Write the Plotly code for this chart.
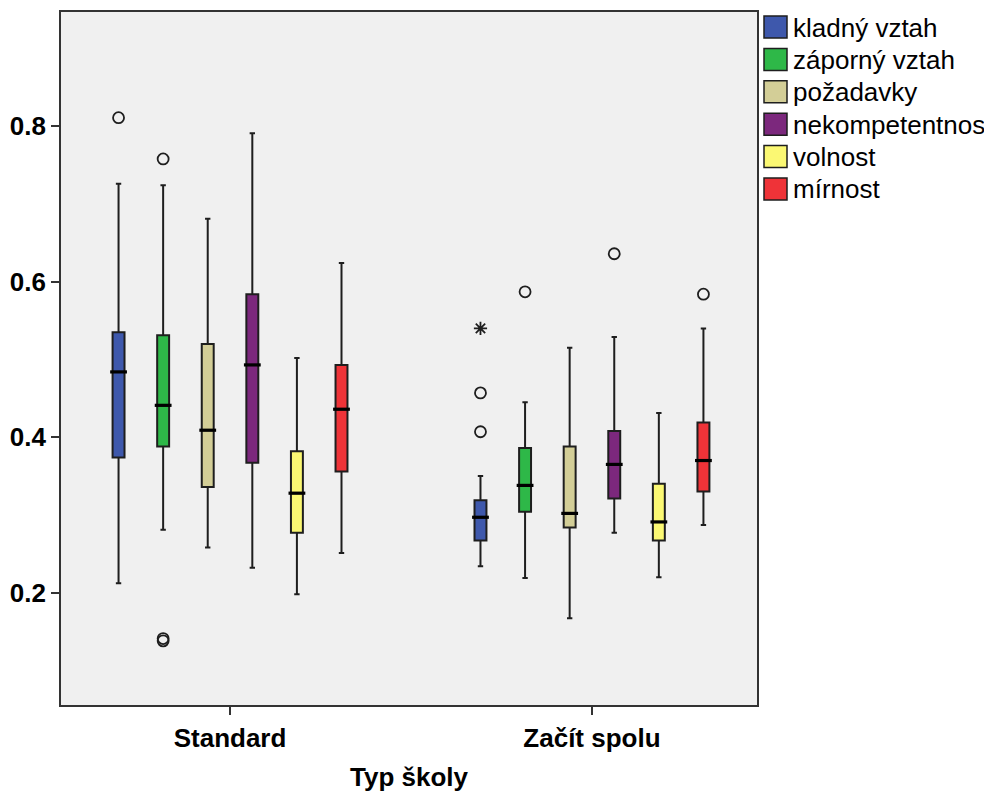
import plotly.graph_objects as go

# ---- data ----
groups = ["Standard", "Začít spolu"]
series = ["kladný vztah", "záporný vztah", "požadavky", "nekompetentnost", "volnost", "mírnost"]
colors = ["#3E58AC", "#2EB848", "#D3CE97", "#7C287D", "#FBF873", "#EF3338"]

# per series: [Standard, Začít spolu]
lower_whisker = [[0.212, 0.234], [0.281, 0.219], [0.258, 0.167], [0.232, 0.277], [0.198, 0.220], [0.251, 0.287]]
q1_values     = [[0.374, 0.267], [0.388, 0.304], [0.336, 0.284], [0.367, 0.321], [0.277, 0.267], [0.356, 0.330]]
median_values = [[0.484, 0.297], [0.441, 0.338], [0.409, 0.302], [0.493, 0.365], [0.328, 0.291], [0.436, 0.370]]
q3_values     = [[0.535, 0.319], [0.531, 0.386], [0.520, 0.388], [0.584, 0.408], [0.382, 0.340], [0.493, 0.419]]
upper_whisker = [[0.726, 0.350], [0.724, 0.445], [0.681, 0.515], [0.791, 0.529], [0.502, 0.431], [0.624, 0.540]]

# outliers: series index, group index, value, kind ("o" = outlier, "*" = extreme)
outlier_series = [0, 1, 1, 1, 0, 0, 0, 1, 3, 5]
outlier_group  = [0, 0, 0, 0, 1, 1, 1, 1, 1, 1]
outlier_value  = [0.811, 0.758, 0.141, 0.138, 0.540, 0.457, 0.407, 0.587, 0.636, 0.584]
outlier_kind   = ["o", "o", "o", "o", "*", "o", "o", "o", "o", "o"]

y_ticks = [0.2, 0.4, 0.6, 0.8]

# ---- layout constants ----
spacing = 0.1232   # distance between boxes within a group (x units)
box_w = 0.033
FONT = "Arial, Liberation Sans, sans-serif"
FS = 26
n = len(series)
OFF = 8  # page body margin

def pos(si, gi):
    return gi + (si - (n - 1) / 2) * spacing

fig = go.Figure()

for si, name in enumerate(series):
    xs = [pos(si, gi) for gi in range(len(groups))]
    fig.add_trace(go.Box(
        x=xs,
        q1=q1_values[si], median=median_values[si], q3=q3_values[si],
        lowerfence=lower_whisker[si], upperfence=upper_whisker[si],
        fillcolor=colors[si],
        line=dict(color="#1e1e1e", width=2),
        width=box_w, whiskerwidth=0.45,
        boxpoints=False, showlegend=False, name=name, hoverinfo="skip",
    ))
    # thick median bars
    fig.add_trace(go.Scatter(
        x=xs, y=median_values[si], mode="markers",
        marker=dict(symbol="line-ew", size=12, line=dict(color="black", width=3.2)),
        showlegend=False, hoverinfo="skip",
    ))

# outliers
for kind, sym, size in [("o", "circle-open", 11), ("*", "asterisk-open", 11)]:
    xs = [pos(s, g) for s, g, k in zip(outlier_series, outlier_group, outlier_kind) if k == kind]
    ys = [v for v, k in zip(outlier_value, outlier_kind) if k == kind]
    fig.add_trace(go.Scatter(
        x=xs, y=ys, mode="markers",
        marker=dict(symbol=sym, size=size, color="#1e1e1e", line=dict(color="#1e1e1e", width=1.8)),
        showlegend=False, hoverinfo="skip",
    ))

# ---- manual legend (SPSS style) ----
# target screen pixels of the plot frame
L, R, T, B = 61, 757, 12, 705
W, H = R - L, B - T
FIG_W, FIG_H = 992 - OFF, 792 - OFF

def px(x):
    return (x - L) / W
def py(y):
    return (B - y) / H

shapes = []
annotations = []
for i, (name, col) in enumerate(zip(series, colors)):
    top = 16 + 32.4 * i
    shapes.append(dict(type="rect", xref="paper", yref="paper",
                       x0=px(764), x1=px(787), y0=py(top + 22), y1=py(top),
                       fillcolor=col, line=dict(color="#1e1e1e", width=1.5)))
    annotations.append(dict(xref="paper", yref="paper", x=px(791), y=py(top + 11.5),
                            text=name, showarrow=False, xanchor="left", yanchor="middle",
                            font=dict(family=FONT, size=FS, color="black")))

fig.update_layout(
    width=FIG_W, height=FIG_H,
    margin=dict(l=L - OFF, r=FIG_W - (R - OFF), t=T - OFF, b=FIG_H - (B - OFF), autoexpand=False),
    paper_bgcolor="white", plot_bgcolor="#F0F0F0",
    showlegend=False,
    shapes=shapes, annotations=annotations,
    font=dict(family=FONT, color="black"),
)
fig.update_xaxes(
    range=[-0.467, 1.456], automargin=False,
    tickvals=list(range(len(groups))), ticktext=[f"<b>{g}</b>" for g in groups],
    ticks="outside", ticklen=8, tickwidth=1.5, tickcolor="#333",
    tickfont=dict(family=FONT, size=FS, color="black"),
    ticklabelstandoff=1,
    showline=True, linecolor="#333", linewidth=1.8, mirror=True,
    showgrid=False, zeroline=False,
    title=dict(text="<b>Typ školy</b>", font=dict(family=FONT, size=FS, color="black"), standoff=26),
)
fig.update_yaxes(
    range=[0.0555, 0.947], automargin=False,
    tickvals=y_ticks, ticktext=[f"<b>{t:.1f}</b>" for t in y_ticks],
    ticks="outside", ticklen=8, tickwidth=1.5, tickcolor="#333",
    tickfont=dict(family=FONT, size=FS, color="black"),
    showline=True, linecolor="#333", linewidth=1.8, mirror=True,
    showgrid=False, zeroline=False,
)

fig.write_html("out.html")
